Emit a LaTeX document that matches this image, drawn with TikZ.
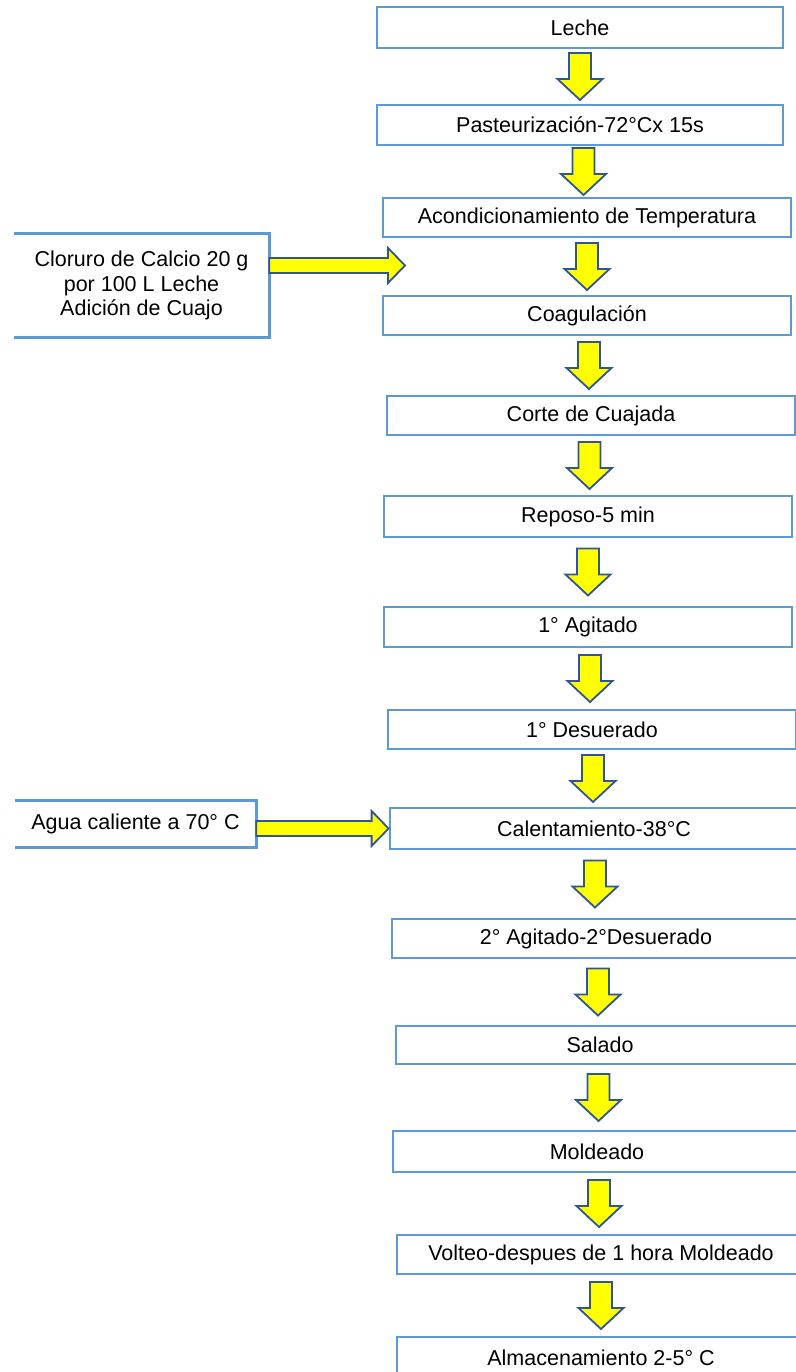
\documentclass[tikz,border=0pt]{standalone}
\usepackage{fontspec}
\setmainfont{Liberation Sans}
\usetikzlibrary{calc}

\definecolor{cajaazul}{HTML}{5B9BD5}
\definecolor{flechaazul}{HTML}{2F5597}
\definecolor{amarillo}{HTML}{FFFF00}

\begin{document}
\begin{tikzpicture}[x=1pt, y=-1pt,
    paso/.style={draw=cajaazul, line width=2.8pt, fill=white, inner sep=0pt,
      minimum height=40pt, minimum width=408pt, font=\fontsize{21.5}{25}\selectfont},
    insumo/.style={inner sep=0pt, align=center, font=\fontsize{21.5}{24.5}\selectfont},
    borde/.style={draw=cajaazul, line width=2.8pt},
    bajada/.style={fill=amarillo, draw=flechaazul, line width=1.8pt,
      to path={let \p1=($(\tikztostart)!0.5!(\tikztotarget)$) in
        (\x1-11pt,\y1+23.5pt) -- (\x1+11pt,\y1+23.5pt) -- (\x1+11pt,\y1-2.5pt)
        -- (\x1+22.5pt,\y1-2.5pt) -- (\x1,\y1-23.5pt) -- (\x1-22.5pt,\y1-2.5pt)
        -- (\x1-11pt,\y1-2.5pt) -- cycle}},
    entrada/.style={fill=amarillo, draw=flechaazul, line width=1.8pt,
      to path={let \p1=(\tikztostart), \p2=(\tikztotarget) in
        (\x1,\y2+7.5pt) -- (\x2-17pt,\y2+7.5pt) -- (\x2-17pt,\y2+17.5pt)
        -- (\x2,\y2) -- (\x2-17pt,\y2-17.5pt) -- (\x2-17pt,\y2-7.5pt)
        -- (\x1,\y2-7.5pt) -- cycle}}
  ]
  \useasboundingbox (0,0) rectangle (795,1372);

  % Pasos del proceso
  \node[paso, minimum width=406pt, minimum height=41pt] (leche) at (580,27.5) {Leche};
  \node[paso, minimum width=406pt] (past) at (580,125) {Pasteurización-72°Cx 15s};
  \node[paso, minimum height=39pt] (acond) at (587,217.5) {Acondicionamiento de Temperatura};
  \node[paso, minimum height=39pt] (coag) at (587,315.5) {Coagulación};
  \node[paso, minimum height=39pt] (corte) at (591,415.5) {Corte de Cuajada};
  \node[paso, minimum height=41pt] (reposo) at (588,516.5) {Reposo-5 min};
  \node[paso] (agit1) at (588,627) {1° Agitado};
  \node[paso, minimum height=39pt] (desu1) at (592,729.5) {1° Desuerado};
  \node[paso, minimum height=41pt] (calent) at (594,828.5) {Calentamiento-38°C};
  \node[paso, minimum height=39pt] (agit2) at (596,938.5) {2° Agitado-2°Desuerado};
  \node[paso, minimum height=38pt] (salado) at (600,1045) {Salado};
  \node[paso, minimum height=41pt] (molde) at (597,1151.5) {Moldeado};
  \node[paso, minimum height=39pt] (volteo) at (601,1254.5) {Volteo-despues de 1 hora Moldeado};
  \node[paso, minimum height=41pt] (almac) at (601,1357.5) {Almacenamiento 2-5° C};

  % Insumos (sin borde izquierdo)
  \node[insumo, minimum width=255pt, minimum height=103pt] (clo) at (141.5,285.5)
    {Cloruro de Calcio 20 g\\por 100 L Leche\\Adición de Cuajo};
  \draw[borde] (clo.north west) -- (clo.north east) -- (clo.south east) -- (clo.south west);
  \node[insumo, minimum width=241pt, minimum height=46pt] (agua) at (135.5,824)
    {Agua caliente a 70° C};
  \draw[borde] (agua.north west) -- (agua.north east) -- (agua.south east) -- (agua.south west);

  % Flechas
  \foreach \a/\b in {leche/past, past/acond, acond/coag, coag/corte, corte/reposo,
      reposo/agit1, agit1/desu1, desu1/calent, calent/agit2, agit2/salado,
      salado/molde, molde/volteo, volteo/almac}
    \draw[bajada] (\a.south) to (\b.north);
  \coordinate (punta) at (405,265.5);
  \draw[entrada] (clo.east) to (punta);
  \draw[entrada] (agua.east) to (calent.west);
\end{tikzpicture}
\end{document}
